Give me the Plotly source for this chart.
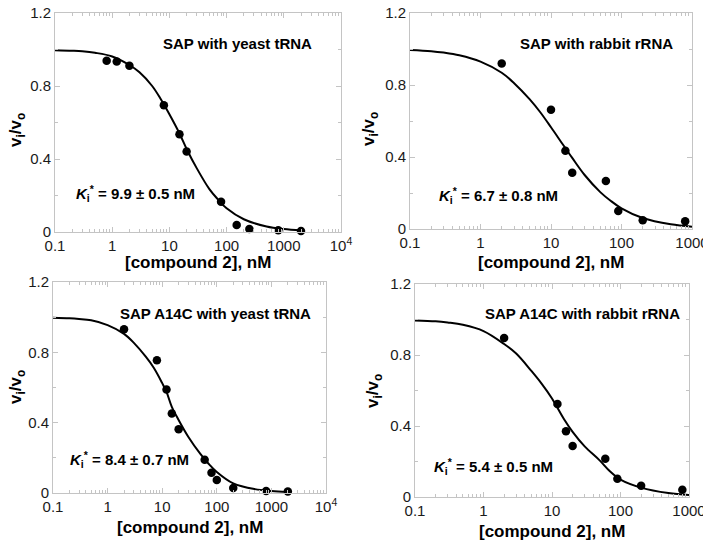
import plotly.graph_objects as go

# ---------------- data ----------------
# Panel A: SAP with yeast tRNA
xA = [0.8, 1.2, 2, 8, 15, 20, 80, 150, 250, 800, 2000]
yA = [0.938, 0.934, 0.911, 0.694, 0.535, 0.441, 0.166, 0.038, 0.016, 0.009, 0.005]
cxA = [0.1, 0.2, 0.3, 0.5, 1, 2, 3, 5, 7, 10, 15, 20, 30, 50, 70, 100, 200, 500, 1000, 2000]
cyA = [0.996, 0.993, 0.99, 0.982, 0.962, 0.915, 0.875, 0.8, 0.73, 0.645, 0.54, 0.455, 0.35, 0.235, 0.18, 0.13, 0.07, 0.03, 0.016, 0.009]

# Panel B: SAP with rabbit rRNA
xB = [2, 10, 16, 20, 60, 90, 200, 800]
yB = [0.919, 0.663, 0.435, 0.313, 0.267, 0.10, 0.048, 0.043]
cxB = [0.1, 0.2, 0.3, 0.5, 1, 2, 3, 5, 7, 10, 15, 20, 30, 50, 70, 100, 200, 500, 1000]
cyB = [0.995, 0.988, 0.98, 0.965, 0.93, 0.868, 0.81, 0.72, 0.65, 0.565, 0.465, 0.395, 0.30, 0.205, 0.157, 0.115, 0.061, 0.026, 0.013]

# Panel C: SAP A14C with yeast tRNA
xC = [2, 8, 12, 15, 20, 60, 80, 100, 200, 800, 2000]
yC = [0.931, 0.755, 0.589, 0.452, 0.362, 0.189, 0.115, 0.074, 0.028, 0.011, 0.009]
cxC = [0.1, 0.2, 0.3, 0.5, 1, 2, 3, 5, 7, 10, 12, 15, 20, 30, 50, 70, 100, 200, 500, 1000, 2000]
cyC = [0.997, 0.994, 0.99, 0.982, 0.955, 0.905, 0.855, 0.775, 0.712, 0.625, 0.575, 0.49, 0.415, 0.32, 0.222, 0.168, 0.12, 0.055, 0.022, 0.012, 0.007]

# Panel D: SAP A14C with rabbit rRNA
xD = [2, 12, 16, 20, 60, 90, 200, 800]
yD = [0.896, 0.524, 0.37, 0.287, 0.216, 0.103, 0.064, 0.041]
cxD = [0.1, 0.2, 0.3, 0.5, 1, 2, 3, 5, 7, 10, 15, 20, 30, 50, 70, 100, 200, 500, 1000]
cyD = [0.995, 0.99, 0.983, 0.97, 0.935, 0.862, 0.808, 0.71, 0.64, 0.555, 0.438, 0.367, 0.285, 0.205, 0.145, 0.098, 0.053, 0.022, 0.011]

titles = ["SAP with yeast tRNA", "SAP with rabbit rRNA",
          "SAP A14C with yeast tRNA", "SAP A14C with rabbit rRNA"]
ki_texts = ["9.9 ± 0.5 nM", "6.7 ± 0.8 nM", "8.4 ± 0.7 nM", "5.4 ± 0.5 nM"]

yticks = [0, 0.4, 0.8, 1.2]
ytick_labels = ["0", "0.4", "0.8", "1.2"]
xticks4 = [0.1, 1, 10, 100, 1000, 10000]
xtick_labels4 = ["0.1", "1", "10", "100", "1000", "10<sup>4</sup>"]
xticks3 = [0.1, 1, 10, 100, 1000]
xtick_labels3 = ["0.1", "1", "10", "100", "1000"]

# page body has an 8px margin; figure is sized to fit the remaining window
OFF = 8
W, H = 711 - OFF, 542 - OFF
FONT = "Liberation Sans, Arial, sans-serif"
GRID = "#c4c4c4"


def PX(px):
    return (px - OFF) / W


def PY(py):
    return 1 - (py - OFF) / H


# plot boxes in screen pixels: (left, right, top, bottom)
boxes = [(55, 341, 13, 232), (410, 692, 13, 229), (53, 326, 282, 493), (415, 689, 284, 497)]
decades = [4, 3, 4, 3]

fig = go.Figure()
data = [(xA, yA, cxA, cyA), (xB, yB, cxB, cyB), (xC, yC, cxC, cyC), (xD, yD, cxD, cyD)]


def minor_vals(maxdec):
    vals = []
    for e in range(-1, maxdec):
        for m in range(2, 10):
            vals.append(m * 10 ** e)
    return vals


for i, (xs, ys, cx, cy) in enumerate(data):
    n = "" if i == 0 else str(i + 1)
    fig.add_trace(go.Scatter(x=cx, y=cy, mode="lines", line=dict(color="black", width=2, shape="spline"),
                             xaxis="x" + n, yaxis="y" + n, showlegend=False, hoverinfo="skip"))
    fig.add_trace(go.Scatter(x=xs, y=ys, mode="markers", marker=dict(color="black", size=8.5),
                             xaxis="x" + n, yaxis="y" + n, showlegend=False, cliponaxis=False))
    l, r, t, b = boxes[i]
    d = decades[i]
    common = dict(showline=True, linecolor=GRID, linewidth=1, mirror="allticks", ticks="inside",
                  ticklen=5, tickcolor=GRID, showgrid=False, zeroline=False, automargin=False,
                  ticklabeloverflow="allow",
                  tickfont=dict(family=FONT, size=15, color="#1a1a1a"))
    fig.update_layout(**{
        "xaxis" + n: dict(domain=[PX(l), PX(r)], anchor="y" + n, type="log", range=[-1, d],
                          tickmode="array",
                          tickvals=xticks4 if d == 4 else xticks3,
                          ticktext=xtick_labels4 if d == 4 else xtick_labels3,
                          minor=dict(ticks="inside", ticklen=3, tickcolor=GRID, tickmode="array",
                                     tickvals=minor_vals(d)),
                          **common),
        "yaxis" + n: dict(domain=[PY(b), PY(t)], anchor="x" + n, range=[0, 1.2],
                          tickmode="array", tickvals=yticks, ticktext=ytick_labels,
                          minor=dict(ticks="inside", ticklen=3, tickcolor=GRID, dtick=0.2),
                          **common),
    })

anns = []
title_pos = [(237, 43), (596, 43), (215, 313), (582, 313)]
ki_pos = [(74, 193), (437, 195), (68, 459), (432, 466)]
xt_pos = [(198, 262), (551, 262), (190, 527), (552, 531)]
yt_pos = [(17, 130), (370, 129), (17, 387), (374, 391)]
for i in range(4):
    tx, ty = title_pos[i]
    anns.append(dict(x=PX(tx), y=PY(ty), xref="paper", yref="paper", showarrow=False,
                     xanchor="center", yanchor="middle",
                     text="<b>" + titles[i] + "</b>", font=dict(family=FONT, size=15, color="black")))
    kx, ky = ki_pos[i]
    anns.append(dict(x=PX(kx), y=PY(ky), xref="paper", yref="paper", showarrow=False,
                     xanchor="left", yanchor="middle",
                     text="<b><i>K</i><sub>i</sub><sup>*</sup> = " + ki_texts[i] + "</b>",
                     font=dict(family=FONT, size=15, color="black")))
    ax_, ay_ = xt_pos[i]
    anns.append(dict(x=PX(ax_), y=PY(ay_), xref="paper", yref="paper", showarrow=False,
                     xanchor="center", yanchor="middle",
                     text="<b>[compound 2], nM</b>", font=dict(family=FONT, size=17, color="black")))
    yx, yy = yt_pos[i]
    anns.append(dict(x=PX(yx), y=PY(yy), xref="paper", yref="paper", showarrow=False, textangle=-90,
                     xanchor="center", yanchor="middle",
                     text="<b>v<sub>i</sub>/v<sub>o</sub></b>", font=dict(family=FONT, size=17, color="black")))

fig.update_layout(width=W, height=H, margin=dict(l=0, r=0, t=0, b=0, autoexpand=False),
                  paper_bgcolor="white", plot_bgcolor="white", annotations=anns, showlegend=False)

fig.write_html("out.html")
